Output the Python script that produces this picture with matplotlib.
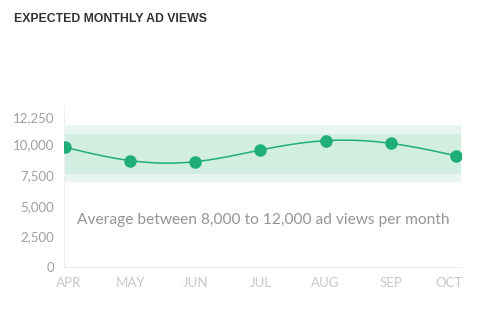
import numpy as np
import matplotlib
matplotlib.use("Agg")
import matplotlib.pyplot as plt
from matplotlib.ticker import FuncFormatter
from matplotlib.transforms import ScaledTranslation

months = ["APR", "MAY", "JUN", "JUL", "AUG", "SEP", "OCT"]
views = [9780, 8690, 8600, 9560, 10320, 10100, 9090]
outer_band = (6950, 11600)
inner_band = (7600, 10850)
y_ticks = [0, 2500, 5000, 7500, 10000, 12250]
note = "Average between 8,000 to 12,000 ad views per month"

GREEN = "#1fae7a"


def natural_spline(x, y, n=300):
    # plain natural cubic spline, just for a smooth line through the points
    x = np.asarray(x, float)
    y = np.asarray(y, float)
    k = len(x)
    h = np.diff(x)
    A = np.zeros((k, k))
    b = np.zeros(k)
    A[0, 0] = A[-1, -1] = 1
    for i in range(1, k - 1):
        A[i, i - 1] = h[i - 1]
        A[i, i] = 2 * (h[i - 1] + h[i])
        A[i, i + 1] = h[i]
        b[i] = 3 * ((y[i + 1] - y[i]) / h[i] - (y[i] - y[i - 1]) / h[i - 1])
    c = np.linalg.solve(A, b)
    xs = np.linspace(x[0], x[-1], n)
    ys = np.empty_like(xs)
    for j, xv in enumerate(xs):
        i = min(np.searchsorted(x, xv, side="right") - 1, k - 2)
        bi = (y[i + 1] - y[i]) / h[i] - h[i] * (2 * c[i] + c[i + 1]) / 3
        di = (c[i + 1] - c[i]) / (3 * h[i])
        t = xv - x[i]
        ys[j] = y[i] + bi * t + c[i] * t ** 2 + di * t ** 3
    return xs, ys


plt.rcParams["font.family"] = ["Lato", "DejaVu Sans"]

fig = plt.figure(figsize=(4.84, 3.25), dpi=100)
ax = fig.add_axes([0.1322, 0.1785, 0.8203, 0.4985])

x = np.arange(len(months))
ax.axhspan(*outer_band, color="#e8f6ef", lw=0, zorder=1)
ax.axhspan(*inner_band, color="#d2eee1", lw=0, zorder=1)

xs, ys = natural_spline(x, views)
ax.plot(xs, ys, color=GREEN, lw=1.1, zorder=3)
ax.plot(x, views, "o", color=GREEN, ms=8, zorder=4)

ax.set_xlim(-0.015, 6.077)
ax.set_ylim(0, 13235)
ax.set_xticks(x)
ax.set_xticklabels(months)
ax.set_yticks(y_ticks)
ax.yaxis.set_major_formatter(FuncFormatter(lambda v, p: f"{int(v):,}"))

for s in ["top", "right"]:
    ax.spines[s].set_visible(False)
ax.spines["left"].set_color("#f0f0f0")
ax.spines["bottom"].set_color("#ececec")
ax.tick_params(axis="both", length=0)
ax.tick_params(axis="y", labelsize=9.5, colors="#a0a0a0", pad=7)
ax.tick_params(axis="x", labelsize=9.5, colors="#c8c8c8", pad=7)

# first and last month labels are nudged inward, as in the original
labels = ax.get_xticklabels()
labels[0].set_transform(labels[0].get_transform() + ScaledTranslation(0.04, 0, fig.dpi_scale_trans))
labels[-1].set_transform(labels[-1].get_transform() + ScaledTranslation(-0.07, 0, fig.dpi_scale_trans))

ax.text(3.04, 3850, note, ha="center", va="center", fontsize=11.2,
        color="#959595", zorder=5)

fig.text(0.029, 0.94, "EXPECTED MONTHLY AD VIEWS", fontsize=8.8,
         fontweight="bold", color="#333333", family="Liberation Sans",
         va="center")

fig.savefig("out.png", dpi=100)
